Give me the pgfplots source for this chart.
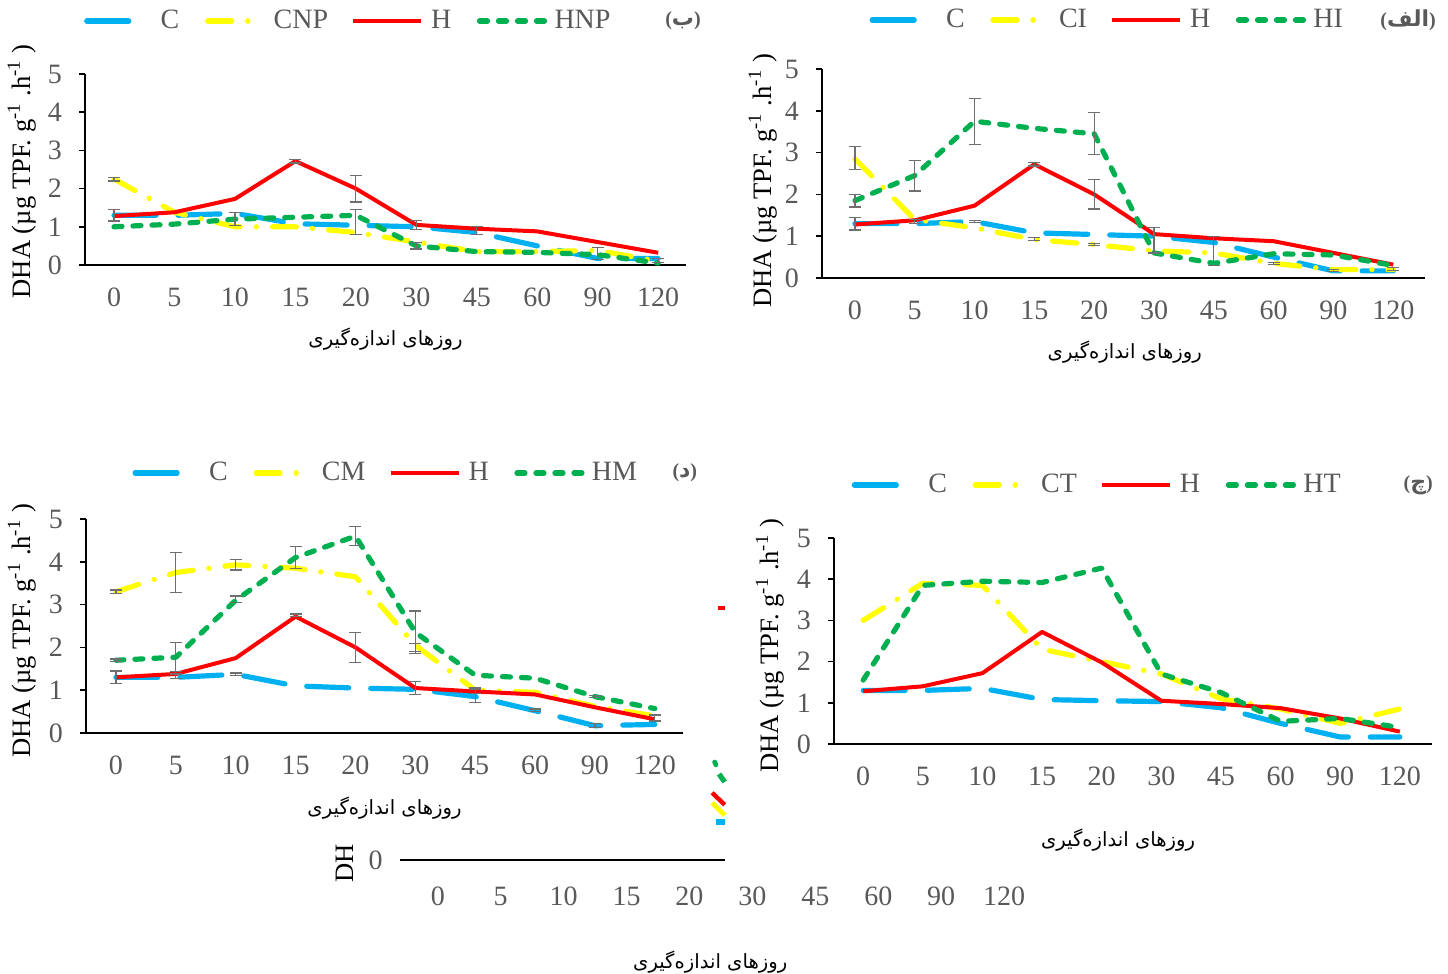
\documentclass[border=0pt]{standalone}
\usepackage{pgfplots}
\pgfplotsset{compat=1.18}
\usepackage{fontspec}
\setmainfont{Liberation Serif}
\newfontfamily\arabicfont[Script=Arabic]{DejaVu Sans}
\TeXXeTstate=1
\definecolor{cblue}{HTML}{00B0F0}
\definecolor{cyel}{HTML}{FFFF00}
\definecolor{cred}{HTML}{FF0000}
\definecolor{cgreen}{HTML}{00B050}
\definecolor{tickgray}{HTML}{595959}
\definecolor{errgray}{HTML}{6F6F6F}

\newcommand{\persianlabel}{{\arabicfont\fontsize{9.8}{11}\selectfont\beginR روزهای اندازه‌گیری\endR}}
\newcommand{\dhalabel}{DHA (µg TPF. g\textsuperscript{-1} .h\textsuperscript{-1} )}
\newcommand{\plab}[1]{{\color{tickgray}\bfseries(}{\arabicfont\bfseries\fontsize{11}{13}\selectfont\color{tickgray}\beginR #1\endR}{\color{tickgray}\bfseries)}}

\pgfplotsset{
  panel/.style={
    scale only axis,
    axis x line=bottom, axis y line=left,
    axis line style={-, line width=1.2pt, black},
    ymin=0, ymax=5,
    xtick={0,...,9},
    xticklabels={0,5,10,15,20,30,45,60,90,120},
    ytick={0,1,2,3,4,5},
    xtick style={draw=none},
    ytick style={black, line width=0.8pt},
    tick align=outside,
    major tick length=3pt,
    tick label style={font=\fontsize{14}{16}\selectfont, text=tickgray},
    /pgf/number format/assume math mode=true,
    yticklabel style={xshift=-5pt},
    xticklabel style={yshift=-5pt},
    ylabel={\dhalabel},
    ylabel style={font=\fontsize{13.3}{15}\selectfont, anchor=center},
    xlabel={\persianlabel},
    xlabel style={anchor=center},
    legend columns=4,
    legend style={draw=none, fill=none, font=\fontsize{14}{16}\selectfont, text=tickgray, anchor=center,
      nodes={inner xsep=1pt},
      /tikz/every odd column/.append style={column sep=0pt},
      /tikz/every even column/.append style={column sep=10.5pt}},
    clip=false,
  },
  sC/.style={color=cblue, line width=2.6pt, line cap=round, line join=round, dash pattern=on 21pt off 11pt,
    legend image code/.code={\draw[##1] (1.3pt,0pt) -- (22.3pt,0pt); \path (0pt,0pt) (36pt,0pt);}},
  sY/.style={color=cyel, line width=2.6pt, line cap=round, line join=round, dash pattern=on 12pt off 8pt on 0.1pt off 8pt,
    legend image code/.code={\draw[##1] (1.3pt,0pt) -- (21.5pt,0pt); \path (0pt,0pt) (32pt,0pt);}},
  sH/.style={color=cred, line width=2pt, line join=round, solid,
    legend image code/.code={\draw[##1] (0pt,0pt) -- (34pt,0pt); \path (37pt,0pt);}},
  sG/.style={color=cgreen, line width=2.6pt, line cap=round, line join=round, dash pattern=on 4pt off 5.5pt,
    legend image code/.code={\draw[##1] (1.3pt,0pt) -- (34.8pt,0pt); \path (0pt,0pt) (36.5pt,0pt);}},
  errs/.style={draw=none, forget plot, mark=none,
    error bars/.cd, y dir=both, y explicit,
    error bar style={errgray, line width=0.6pt, solid},
    error mark options={errgray, rotate=90, mark size=3pt, line width=0.6pt, solid}},
}

% panel (b) top-left
\pgfplotstableread{
x C S H G
0 1.30 2.25 1.28 1.00
1 1.30 1.38 1.38 1.07
2 1.35 1.00 1.73 1.20
3 1.08 1.00 2.72 1.25
4 1.04 0.85 2.00 1.30
5 1.00 0.60 1.05 0.50
6 0.85 0.35 0.95 0.35
7 0.50 0.35 0.88 0.33
8 0.17 0.38 0.60 0.27
9 0.17 0.10 0.32 0.05
}\tabB
\pgfplotstableread{
x y e
0 1.30 0.15
0 2.25 0.05
2 1.20 0.17
3 2.72 0.05
4 2.00 0.35
4 1.12 0.33
5 1.05 0.12
5 0.50 0.08
6 0.90 0.10
8 0.30 0.15
9 0.12 0.06
}\errB

% panel (alef) top-right
\pgfplotstableread{
x C S H G
0 1.30 2.85 1.28 1.85
1 1.30 1.40 1.38 2.45
2 1.35 1.20 1.73 3.75
3 1.08 0.92 2.72 3.58
4 1.04 0.80 2.00 3.45
5 1.00 0.65 1.05 0.60
6 0.85 0.60 0.95 0.35
7 0.50 0.35 0.88 0.58
8 0.17 0.20 0.60 0.55
9 0.17 0.20 0.32 0.30
}\tabA
\pgfplotstableread{
x y e
0 1.30 0.15
0 1.85 0.15
0 2.87 0.27
1 2.45 0.37
1 1.35 0.05
2 3.75 0.55
2 1.35 0.03
3 2.72 0.04
3 0.93 0.03
4 3.45 0.50
4 2.00 0.35
4 0.80 0.03
5 0.90 0.30
6 0.65 0.35
7 0.35 0.03
8 0.18 0.03
9 0.22 0.04
}\errA

% panel (dal) bottom-left
\pgfplotstableread{
x C S H G
0 1.30 3.30 1.30 1.70
1 1.30 3.75 1.38 1.77
2 1.37 3.93 1.75 3.10
3 1.10 3.85 2.72 4.10
4 1.05 3.65 2.00 4.60
5 1.02 2.05 1.05 2.35
6 0.85 1.00 0.97 1.35
7 0.52 0.95 0.90 1.28
8 0.17 0.62 0.60 0.85
9 0.20 0.40 0.32 0.57
}\tabD
\pgfplotstableread{
x y e
0 1.30 0.15
0 3.30 0.04
0 1.70 0.03
1 3.75 0.47
1 1.75 0.37
1 1.35 0.08
2 3.93 0.12
2 3.12 0.08
2 1.37 0.03
3 4.10 0.25
3 2.75 0.03
4 4.60 0.22
4 2.00 0.35
5 2.35 0.50
5 2.00 0.10
5 1.05 0.15
6 0.88 0.17
6 0.97 0.05
7 0.53 0.03
8 0.17 0.05
8 0.85 0.03
9 0.35 0.07
}\errD

% panel (che) bottom-right
\pgfplotstableread{
x C S H G
0 1.30 3.00 1.28 1.55
1 1.30 3.90 1.40 3.85
2 1.35 3.85 1.72 3.95
3 1.08 2.30 2.72 3.92
4 1.05 2.00 1.98 4.27
5 1.03 1.70 1.05 1.70
6 0.88 1.10 0.97 1.25
7 0.50 0.85 0.87 0.55
8 0.17 0.50 0.62 0.62
9 0.17 0.85 0.30 0.40
}\tabT

\begin{document}
\begin{tikzpicture}
\useasboundingbox (0,0) rectangle (724pt,487pt);

% partially hidden chart underneath (bottom)
\begin{axis}[scale only axis, at={(200pt,57pt)}, anchor=south west, width=317.8pt, height=20pt,
  xmin=-0.6, xmax=9.5, ymin=0, ymax=1,
  axis x line=bottom, axis y line=left, axis line style={draw=none},
  xtick={0,...,9}, xticklabels={0,5,10,15,20,30,45,60,90,120},
  ytick={0}, tick style={draw=none},
  tick label style={font=\fontsize{14}{16}\selectfont, text=tickgray},
  /pgf/number format/assume math mode=true,
  xticklabel style={yshift=-8pt}, yticklabel style={xshift=-3pt},
  xlabel={\persianlabel}, xlabel style={at={(axis description cs:0.488,-2.55)}, anchor=center},
  clip=false]
\addplot[black, line width=1.2pt] coordinates {(-0.6,0) (4.56,0)};
\addplot[cred, line width=2.2pt] coordinates {(4.46,6.3) (4.56,6.3)};
\addplot[cgreen, line width=2.4pt, line cap=round] coordinates {(4.40,2.45) (4.42,2.38)};
\addplot[cgreen, line width=2.6pt] coordinates {(4.47,2.15) (4.56,1.95)};
\addplot[cred, line width=2.2pt] coordinates {(4.36,1.68) (4.56,1.38)};
\addplot[cyel, line width=2.4pt] coordinates {(4.36,1.43) (4.56,1.12)};
\addplot[cblue, line width=2.6pt] coordinates {(4.42,0.95) (4.56,0.95)};
\node[rotate=90, anchor=west, font=\fontsize{13.3}{15}\selectfont] at (axis description cs:-0.0865,-0.75) {DH};
\end{axis}

% top-left (b)
\begin{axis}[panel, at={(42.5pt,354.5pt)}, anchor=south west, width=300.5pt, height=95.5pt,
  xmin=-0.48, xmax=9.46,
  ylabel style={at={(axis description cs:-0.105,0.49)}},
  xlabel style={at={(axis description cs:0.5,-0.39)}},
  legend style={at={(axis description cs:0.436,1.277)}}]
\addplot[sC] table[x=x,y=C] {\tabB}; \addlegendentry{C}
\addplot[sY] table[x=x,y=S] {\tabB}; \addlegendentry{CNP}
\addplot[sH] table[x=x,y=H] {\tabB}; \addlegendentry{H}
\addplot[sG] table[x=x,y=G] {\tabB}; \addlegendentry{HNP}
\addplot[errs] table[x=x,y=y,y error=e] {\errB};
\node at (axis description cs:0.995,1.277) {\plab{ب}};
\end{axis}

% top-right (alef)
\begin{axis}[panel, at={(411pt,348pt)}, anchor=south west, width=301.5pt, height=104.5pt,
  xmin=-0.55, xmax=9.53,
  ylabel style={at={(axis description cs:-0.098,0.464)}},
  xlabel style={at={(axis description cs:0.502,-0.354)}},
  legend style={at={(axis description cs:0.471,1.234)}}]
\addplot[sC] table[x=x,y=C] {\tabA}; \addlegendentry{C}
\addplot[sY] table[x=x,y=S] {\tabA}; \addlegendentry{CI}
\addplot[sH] table[x=x,y=H] {\tabA}; \addlegendentry{H}
\addplot[sG] table[x=x,y=G] {\tabA}; \addlegendentry{HI}
\addplot[errs] table[x=x,y=y,y error=e] {\errA};
\node at (axis description cs:0.972,1.234) {\plab{الف}};
\end{axis}

% bottom-left (dal)
\begin{axis}[panel, at={(43pt,120.5pt)}, anchor=south west, width=298.5pt, height=107pt,
  xmin=-0.5, xmax=9.47,
  ylabel style={at={(axis description cs:-0.107,0.477)}},
  xlabel style={at={(axis description cs:0.5,-0.35)}},
  legend style={at={(axis description cs:0.5,1.215)}}]
\addplot[sC] table[x=x,y=C] {\tabD}; \addlegendentry{C}
\addplot[sY] table[x=x,y=S] {\tabD}; \addlegendentry{CM}
\addplot[sH] table[x=x,y=H] {\tabD}; \addlegendentry{H}
\addplot[sG] table[x=x,y=G] {\tabD}; \addlegendentry{HM}
\addplot[errs] table[x=x,y=y,y error=e] {\errD};
\node at (axis description cs:1.003,1.215) {\plab{د}};
\end{axis}

% bottom-right (che)
\begin{axis}[panel, at={(417pt,115pt)}, anchor=south west, width=299pt, height=103pt,
  xmin=-0.49, xmax=9.54,
  ylabel style={at={(axis description cs:-0.107,0.476)}},
  xlabel style={at={(axis description cs:0.475,-0.466)}},
  legend style={at={(axis description cs:0.438,1.257)}}]
\addplot[sC] table[x=x,y=C] {\tabT}; \addlegendentry{C}
\addplot[sY] table[x=x,y=S] {\tabT}; \addlegendentry{CT}
\addplot[sH] table[x=x,y=H] {\tabT}; \addlegendentry{H}
\addplot[sG] table[x=x,y=G] {\tabT}; \addlegendentry{HT}
\node at (axis description cs:0.977,1.257) {\plab{چ}};
\end{axis}
\end{tikzpicture}
\end{document}
